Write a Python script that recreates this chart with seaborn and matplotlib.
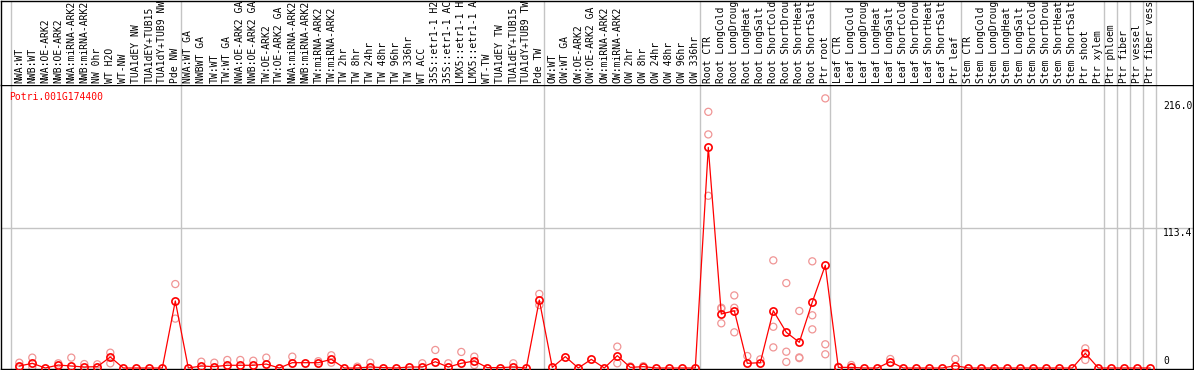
import numpy as np
import pandas as pd
import matplotlib
matplotlib.use("Agg")
import matplotlib.pyplot as plt
import matplotlib.transforms as mtransforms
import seaborn as sns

gene_name = "Potri.001G174400"

sample_labels = [
    "NWA:WT", "NWB:WT", "NWA:OE-ARK2", "NWB:OE-ARK2", "NWA:miRNA-ARK2", "NWB:miRNA-ARK2",
    "NW 0hr", "WT H2O", "WT-NW", "TUA1dEY NW", "TUA1dEY+TUB15", "TUA1dY+TUB9 NW", "Pde NW",
    "NWA:WT GA", "NWBWT GA", "TW:WT", "TW:WT GA", "NWA:OE-ARK2 GA", "NWB:OE-ARK2 GA",
    "TW:OE-ARK2", "TW:OE-ARK2 GA", "NWA:miRNA-ARK2", "NWB:miRNA-ARK2", "TW:miRNA-ARK2",
    "TW:miRNA-ARK2", "TW 2hr", "TW 8hr", "TW 24hr", "TW 48hr", "TW 96hr", "TW 336hr",
    "WT ACC", "35S::etr1-1 H2", "35S::etr1-1 AC", "LMX5::etr1-1 H", "LMX5::etr1-1 A",
    "WT-TW", "TUA1dEY TW", "TUA1dEY+TUB15", "TUA1dY+TUB9 TW", "Pde TW",
    "OW:WT", "OW:WT GA", "OW:OE-ARK2", "OW:OE-ARK2 GA", "OW:miRNA-ARK2", "OW:miRNA-ARK2",
    "OW 2hr", "OW 8hr", "OW 24hr", "OW 48hr", "OW 96hr", "OW 336hr",
    "Root CTR", "Root LongCold", "Root LongDroug", "Root LongHeat", "Root LongSalt",
    "Root ShortCold", "Root ShortDrou", "Root ShortHeat", "Root ShortSalt", "Ptr root",
    "Leaf CTR", "Leaf LongCold", "Leaf LongDroug", "Leaf LongHeat", "Leaf LongSalt",
    "Leaf ShortCold", "Leaf ShortDrou", "Leaf ShortHeat", "Leaf ShortSalt", "Ptr leaf",
    "Stem CTR", "Stem LongCold", "Stem LongDroug", "Stem LongHeat", "Stem LongSalt",
    "Stem ShortCold", "Stem ShortDrou", "Stem ShortHeat", "Stem ShortSalt", "Ptr shoot",
    "Ptr xylem", "Ptr phloem", "Ptr fiber", "Ptr vessel", "Ptr fiber vess",
]

mean_values = [
    1.6, 3.8, 0, 2.4, 1.6, 0.8, 1.1, 8.9, 0, 0, 0, 0, 54.3,
    0, 1.6, 1.1, 2.2, 2.2, 2.2, 3.2, 0, 4.3, 4.3, 4.3, 7.0, 0, 0, 0.8, 0.3, 0, 0.8, 0.8,
    5.1, 0.8, 3.8, 5.7, 0.3, 0.3, 0.8, 0, 55.0,
    0.5, 9.2, 0, 7.0, 0, 10.0, 0.5, 1.1, 0, 0, 0, 0,
    178.7, 43.7, 46.4, 3.8, 4.3, 46.4, 28.9, 20.8, 53.4, 83.2,
    0.5, 0.5, 0, 0, 5.1, 0, 0, 0, 0, 1.9,
    0, 0, 0, 0, 0, 0, 0, 0, 0, 11.9,
    0, 0, 0, 0, 0,
]

rep_index = [
    0, 0, 1, 1, 3, 4, 5, 6, 7, 7, 12, 12,
    14, 15, 16, 17, 18, 19, 21, 23, 24, 24, 26, 27, 31, 32, 33, 34, 35, 35, 38, 40, 40,
    46, 46, 47, 48,
    53, 53, 53, 54, 54, 54, 55, 55, 55, 56, 57, 58, 58, 58, 59, 59, 59,
    60, 60, 60, 61, 61, 61, 62, 62, 62,
    63, 64, 67, 72, 82, 82,
]
rep_values = [
    4.3, 0.5, 8.4, 0.8, 3.8, 8.4, 3.2, 3.0, 12.4, 3.8, 68.0, 40.0,
    5.1, 4.3, 6.5, 6.5, 5.9, 8.4, 9.2, 5.5, 10.3, 4.3, 1.1, 4.3, 3.8, 14.6, 3.8, 13.0, 9.2, 2.4, 3.8, 60.0, 51.0,
    17.3, 3.8, 1.3, 1.5,
    207.5, 189.2, 139.5, 48.0, 48.8, 36.2, 58.8, 48.8, 28.9, 9.7, 7.0, 87.2, 33.4, 16.7, 68.8, 13.2, 4.9,
    46.2, 8.6, 8.0, 86.4, 42.7, 31.3, 218.4, 19.2, 11.1,
    1.0, 2.4, 7.3, 7.3, 15.9, 6.5,
]

group_bounds = [-0.65, 12.4, 40.4, 52.4, 62.4, 72.4, 83.4, 84.4, 85.4, 86.4, 87.4]
grid_value = 113.4
ytick_values = [216.0, 113.4, 0]
ytick_labels = ["216.0", "113.4", "0"]

sns.set_style("white")
plt.rcParams["font.family"] = ["DejaVu Sans Mono", "DejaVu Sans"]

W, H = 1194, 370
fig = plt.figure(figsize=(W / 100, H / 100), dpi=100)

# pixel helpers -> data x: px = 19.3 + 13*i
def px_to_x(px):
    return (px - 19.3) / 13.0

left_px, right_px = 1, 1193
top_px, sep_px, bottom_px = 0.5, 85, 369
xl = (px_to_x(left_px), px_to_x(right_px))

ax = fig.add_axes([left_px / W, (H - bottom_px) / H, (right_px - left_px) / W, (bottom_px - sep_px) / H])
ax_top = fig.add_axes([left_px / W, (H - sep_px) / H, (right_px - left_px) / W, (sep_px - top_px) / H])

pink = "#f09595"
red = "#ff0000"

df_mean = pd.DataFrame({"x": np.arange(len(mean_values)), "value": mean_values})
df_rep = pd.DataFrame({"x": rep_index, "value": rep_values})

for b in group_bounds:
    ax.axvline(b, color="#c4c4c4", lw=1.0, zorder=0.5)
    ax_top.axvline(b, color="#c4c4c4", lw=1.0, zorder=0.5)
ax.axhline(grid_value, color="#c4c4c4", lw=1.0, zorder=0.5)

sns.scatterplot(data=df_rep, x="x", y="value", ax=ax, color=pink, s=26, marker="o",
                linewidth=0.9, legend=False, zorder=2)
coll = ax.collections[-1]
coll.set_facecolor("none")
coll.set_edgecolor(pink)

sns.lineplot(data=df_mean, x="x", y="value", ax=ax, color=red, linewidth=0.9,
             marker="o", markersize=5.2, markerfacecolor="none", markeredgecolor=red,
             markeredgewidth=1.2, legend=False, zorder=3)

y0_px, yref_px = 368.0, 228.0
ppu = (y0_px - yref_px) / grid_value
ylo = -(bottom_px - y0_px) / ppu
yhi = (y0_px - sep_px) / ppu
ax.set_xlim(*xl)
ax.set_ylim(ylo, yhi)
ax.set_xticks([])
ax.set_yticks([])
ax.set_xlabel("")
ax.set_ylabel("")
for s in ax.spines.values():
    s.set_color("black")
    s.set_linewidth(1.0)

ax_top.set_xlim(*xl)
ax_top.set_ylim(0, 1)
ax_top.set_xticks([])
ax_top.set_yticks([])
for s in ax_top.spines.values():
    s.set_color("black")
    s.set_linewidth(1.0)
ax_top.spines["bottom"].set_visible(False)

label_y = 2.0 / (sep_px - top_px)
for i, lab in enumerate(sample_labels):
    ax_top.text(i, label_y, lab, rotation=90, ha="center", va="bottom",
                fontsize=7.0, color="black", clip_on=True)

# value labels on the right
tx = px_to_x(1163)
ax.text(tx, 216.0, ytick_labels[0], ha="left", va="top", fontsize=7.0, color="black")
ax.text(tx, 113.4, ytick_labels[1], ha="left", va="top", fontsize=7.0, color="black")
ax.text(tx, 2.0, ytick_labels[2], ha="left", va="bottom", fontsize=7.0, color="black")

trans = mtransforms.blended_transform_factory(ax.transData, ax.transAxes)
ax.text(px_to_x(9.5), 1 - (97 - sep_px) / (bottom_px - sep_px), gene_name, transform=trans,
        ha="left", va="center", fontsize=7.0, color=red)

fig.savefig("out.png", dpi=100)
